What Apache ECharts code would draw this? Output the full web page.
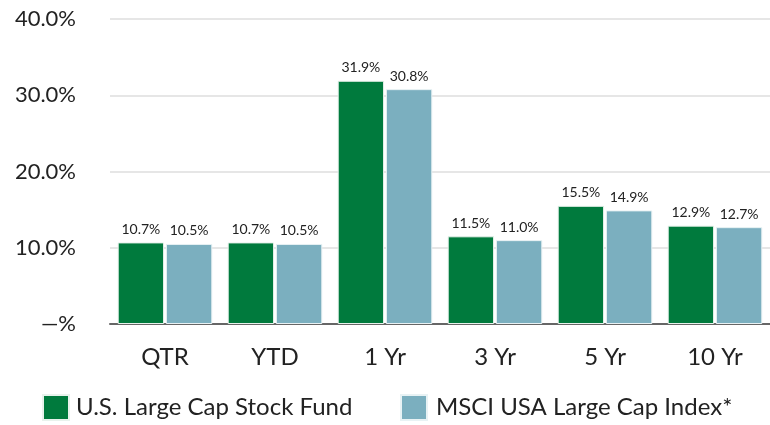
<!DOCTYPE html>
<html><head><meta charset="utf-8">
<script src="https://cdn.jsdelivr.net/npm/echarts@6/dist/echarts.min.js"></script>
<style>html,body{margin:0;padding:0;background:#fff}#c{width:770px;height:425px}</style>
</head><body><div id="c"></div>
<script>
var categories = ['QTR', 'YTD', '1 Yr', '3 Yr', '5 Yr', '10 Yr'];
var fundValues = [10.7, 10.7, 31.9, 11.5, 15.5, 12.9];
var indexValues = [10.5, 10.5, 30.8, 11.0, 14.9, 12.7];
var seriesNames = ['U.S. Large Cap Stock Fund', 'MSCI USA Large Cap Index*'];
var yTickLabels = ['—%', '10.0%', '20.0%', '30.0%', '40.0%'];
var FONT = 'Lato, "Open Sans", sans-serif';
var chart = echarts.init(document.getElementById('c'));
chart.setOption({
  animation: false,
  textStyle: { fontFamily: FONT },
  grid: { left: 110, right: 0, top: 19, bottom: 101, containLabel: false },
  legend: [
    { data: [seriesNames[0]], left: 37, top: 389, itemWidth: 26, itemHeight: 25, itemGap: 0,
      textStyle: { fontFamily: FONT, fontSize: 24, color: '#222', padding: [0,0,0,2] }, icon: 'rect' },
    { data: [seriesNames[1]], left: 395, top: 389, itemWidth: 26, itemHeight: 25, itemGap: 0,
      textStyle: { fontFamily: FONT, fontSize: 24, color: '#222', padding: [0,0,0,4] }, icon: 'rect' }
  ],
  xAxis: {
    type: 'category', data: categories,
    axisLine: { show: true, lineStyle: { color: '#666', width: 2 } },
    axisTick: { show: false },
    axisLabel: { fontFamily: FONT, fontSize: 24, color: '#222', margin: 21 }
  },
  yAxis: {
    type: 'value', min: 0, max: 40, interval: 10,
    axisLine: { show: false }, axisTick: { show: false },
    splitLine: { lineStyle: { color: '#e6e6e6', width: 2 } },
    axisLabel: { fontFamily: FONT, fontSize: 22, color: '#222', margin: 34,
      formatter: function (v) { return yTickLabels[Math.round(v / 10)]; } }
  },
  series: [
    { name: seriesNames[0], type: 'bar', data: fundValues, barGap: '4%', barCategoryGap: '14%',
      itemStyle: { color: '#007a3d', borderColor: '#e8f2ec', borderWidth: 1 },
      label: { show: true, position: 'top', distance: 6, fontFamily: FONT, fontSize: 14, color: '#222',
        formatter: function (p) { return p.value.toFixed(1) + '%'; } } },
    { name: seriesNames[1], type: 'bar', data: indexValues,
      itemStyle: { color: '#7bafbf', borderColor: '#e8f2f4', borderWidth: 1 },
      label: { show: true, position: 'top', distance: 6, fontFamily: FONT, fontSize: 14, color: '#222',
        formatter: function (p) { return p.value.toFixed(1) + '%'; } } }
  ]
});
</script></body></html>
